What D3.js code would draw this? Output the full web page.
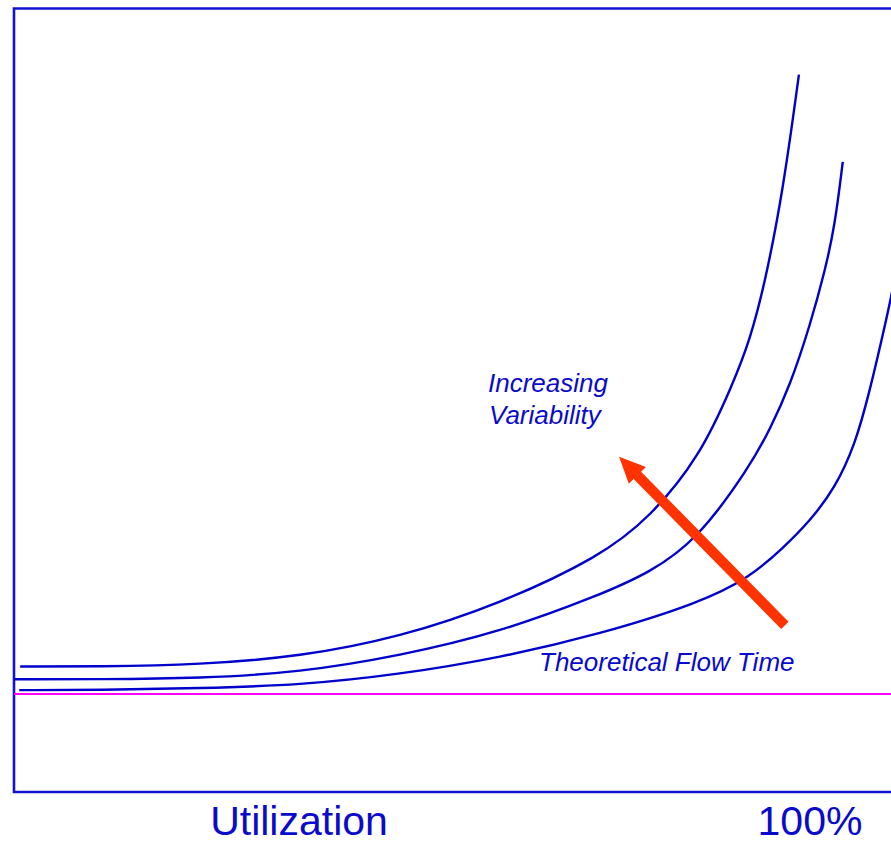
<!DOCTYPE html>
<html>
<head>
<meta charset="utf-8">
<script src="https://cdn.jsdelivr.net/npm/d3@7/dist/d3.min.js"></script>
<style>
html,body{margin:0;padding:0;background:#fff;}
svg{display:block;}
text{font-family:"Liberation Sans",Arial,sans-serif;fill:#0a0acc;}
</style>
</head>
<body>
<svg id="chart" width="891" height="844"></svg>
<script>
// Utilization (%) and flow time (multiples of theoretical flow time)
const highVarX = [0.7, 9.8, 21.2, 32.6, 44.0, 55.4, 66.8, 72.5, 78.2, 82.0, 83.9, 85.6, 87.7, 89.5];
const highVarY = [1.28, 1.28, 1.30, 1.38, 1.58, 1.92, 2.40, 2.80, 3.42, 4.17, 4.61, 5.18, 6.14, 7.32];

const midVarX = [0.0, 9.8, 21.2, 32.6, 44.0, 55.4, 66.8, 72.5, 77.9, 83.9, 86.2, 88.5, 90.8, 92.5, 93.6, 94.5];
const midVarY = [1.15, 1.15, 1.16, 1.22, 1.39, 1.63, 2.01, 2.24, 2.57, 3.32, 3.70, 4.15, 4.77, 5.33, 5.78, 6.43];

const lowVarX = [0.6, 9.8, 21.2, 32.6, 44.0, 55.4, 66.8, 78.2, 83.9, 87.7, 90.8, 93.6, 95.9, 97.6, 99.1, 100.0, 100.7];
const lowVarY = [1.04, 1.04, 1.06, 1.09, 1.20, 1.37, 1.61, 1.93, 2.19, 2.49, 2.77, 3.10, 3.54, 4.10, 4.68, 5.04, 5.38];

const theoreticalFlowTime = 1.0;
const arrowFrom = [87.9, 1.70];
const arrowTo = [69.0, 3.42];

const xLabels = ["Utilization", "100%"];
const annotations = ["Increasing", "Variability", "Theoretical Flow Time"];

const svg = d3.select("#chart");
const x = d3.scaleLinear().domain([0, 100]).range([14, 891]);
const y = d3.scaleLinear().domain([0, 8]).range([792, 8]);

const blue = "#0000cc";

// Frame (left, top, bottom)
svg.append("path")
  .attr("d", `M${x(110)},${y(8) + 0.5} L${x(0)},${y(8) + 0.5} L${x(0)},${y(0)} L${x(110)},${y(0)}`)
  .attr("fill", "none").attr("stroke", "#1212d2").attr("stroke-width", 2.6);

// Theoretical flow time line
svg.append("line")
  .attr("x1", x(0)).attr("x2", x(100))
  .attr("y1", y(theoreticalFlowTime)).attr("y2", y(theoreticalFlowTime))
  .attr("stroke", "#ff00ff").attr("stroke-width", 2);

const line = d3.line()
  .x(d => x(d[0])).y(d => y(d[1]))
  .curve(d3.curveBasis);

const series = [
  [highVarX, highVarY],
  [midVarX, midVarY],
  [lowVarX, lowVarY]
];

svg.append("defs").append("clipPath").attr("id", "clip")
  .append("rect").attr("x", 0).attr("y", 0).attr("width", 891).attr("height", 844);

series.forEach(([xs, ys]) => {
  svg.append("path")
    .datum(xs.map((v, i) => [v, ys[i]]))
    .attr("d", line)
    .attr("fill", "none")
    .attr("stroke", blue)
    .attr("stroke-width", 2.4)
    .attr("clip-path", "url(#clip)");
});

// Red arrow
(function drawArrow() {
  const x0 = x(arrowFrom[0]), y0 = y(arrowFrom[1]);
  const x1 = x(arrowTo[0]), y1 = y(arrowTo[1]);
  const dx = x1 - x0, dy = y1 - y0;
  const len = Math.hypot(dx, dy);
  const ux = dx / len, uy = dy / len;
  const px = -uy, py = ux;
  const headLen = 26, headW = 12, shaftW = 5.2;
  const bx = x1 - ux * headLen, by = y1 - uy * headLen;
  const pts = [
    [x0 + px * shaftW, y0 + py * shaftW],
    [bx + px * shaftW, by + py * shaftW],
    [bx + px * headW, by + py * headW],
    [x1, y1],
    [bx - px * headW, by - py * headW],
    [bx - px * shaftW, by - py * shaftW],
    [x0 - px * shaftW, y0 - py * shaftW]
  ];
  svg.append("polygon")
    .attr("points", pts.map(p => p.join(",")).join(" "))
    .attr("fill", "#ff3300");
})();

// Annotations
svg.append("text").attr("x", 488).attr("y", 392)
  .attr("font-size", 26).attr("font-style", "italic").text(annotations[0]);
svg.append("text").attr("x", 489).attr("y", 424)
  .attr("font-size", 26).attr("font-style", "italic").text(annotations[1]);
svg.append("text").attr("x", 539).attr("y", 671)
  .attr("font-size", 26).attr("font-style", "italic").text(annotations[2]);

// Axis labels
svg.append("text").attr("x", 299).attr("y", 835).attr("text-anchor", "middle")
  .attr("font-size", 41).text(xLabels[0]);
svg.append("text").attr("x", 810).attr("y", 835).attr("text-anchor", "middle")
  .attr("font-size", 41).text(xLabels[1]);
</script>
</body>
</html>
